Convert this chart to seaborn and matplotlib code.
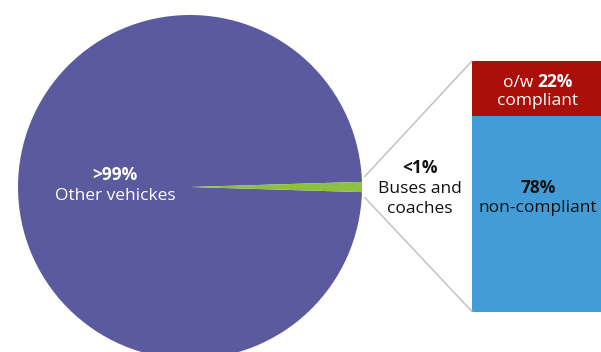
import matplotlib
matplotlib.use("Agg")
import matplotlib.pyplot as plt
import numpy as np
import pandas as pd
import seaborn as sns
from matplotlib.patches import ConnectionPatch

# Vehicle fleet split and the compliance split of buses and coaches
vehicle_labels = ["Other vehickes", "Buses and\ncoaches"]
vehicle_share = [99.05, 0.95]
vehicle_share_text = [">99%", "<1%"]
bus_labels = ["compliant", "non-compliant"]
bus_share = [22, 78]

PURPLE = "#5B5A9E"
GREEN = "#8CC03F"
RED = "#AA0F0A"
BLUE = "#449CD6"
LINE = "#BDBDBD"

sns.set_theme(style="white")
plt.rcParams["font.family"] = ["Open Sans", "DejaVu Sans"]

W, H = 601, 352
fig = plt.figure(figsize=(W / 100, H / 100), dpi=100)

# Pie in pixel-like coordinates (y grows downward)
ax = fig.add_axes([0, 0, 1, 1])
cx, cy, r = 190, 187, 172
bus_angle = 360 * vehicle_share[1] / 100
wedges, _ = ax.pie(
    vehicle_share,
    colors=[PURPLE, GREEN],
    startangle=bus_angle / 2,
    center=(cx, cy),
    radius=r,
    wedgeprops=dict(linewidth=0),
)
ax.set_xlim(0, W)
ax.set_ylim(H, 0)
ax.set_aspect("equal")
ax.axis("off")

# Stacked compliance bar
bx = fig.add_axes([472 / W, 1 - 311.5 / H, 132 / W, 250.5 / H])
bar_df = pd.DataFrame({"group": ["bus", "bus"],
                       "segment": bus_labels,
                       "share": bus_share})
total = bar_df["share"].sum()
sns.barplot(x=["bus"], y=[total], color=RED, width=1, saturation=1,
            linewidth=0, ax=bx)
sns.barplot(x=["bus"], y=[bar_df.loc[1, "share"]], color=BLUE, width=1,
            saturation=1, linewidth=0, ax=bx)
bx.set_xlim(-0.5, 0.5)
bx.set_ylim(0, total)
bx.axis("off")

# Keep the label layer above the bar
ax.set_zorder(3)
ax.patch.set_alpha(0)

# Connector lines from the small slice to the bar
pad = 1.7
for sign, corner in ((1, (0, 1)), (-1, (0, 0))):
    phi = np.deg2rad(bus_angle / 2 + pad)
    start = (cx + (r + 3) * np.cos(phi), cy - sign * (r + 3) * np.sin(phi))
    con = ConnectionPatch(xyA=start, coordsA=ax.transData,
                          xyB=corner, coordsB=bx.transAxes,
                          color=LINE, linewidth=1.0)
    fig.add_artist(con)

FS = 12.5
DARK = "#111111"
# Pie labels
ax.text(115, 180, vehicle_share_text[0], color="white", fontsize=FS,
        fontweight="bold", ha="center", va="baseline")
ax.text(115, 200, vehicle_labels[0], color="white", fontsize=FS,
        ha="center", va="baseline")
ax.text(420, 173, vehicle_share_text[1], color=DARK, fontsize=FS,
        fontweight="bold", ha="center", va="baseline")
bus_lines = vehicle_labels[1].split("\n")
ax.text(420, 193, bus_lines[0], color=DARK, fontsize=FS,
        ha="center", va="baseline")
ax.text(420, 213, bus_lines[1], color=DARK, fontsize=FS,
        ha="center", va="baseline")

# Bar labels
renderer = fig.canvas.get_renderer()
t1 = ax.text(0, 87, "o/w ", color="white", fontsize=FS, ha="left",
             va="baseline")
t2 = ax.text(0, 87, f"{bus_share[0]}%", color="white", fontsize=FS,
             fontweight="bold", ha="left", va="baseline")
w1 = t1.get_window_extent(renderer).width
w2 = t2.get_window_extent(renderer).width
x0 = 538 - (w1 + w2) / 2
t1.set_x(x0)
t2.set_x(x0 + w1)
ax.text(538, 105, bus_labels[0], color="white", fontsize=FS,
        ha="center", va="baseline")
ax.text(538, 193, f"{bus_share[1]}%", color=DARK, fontsize=FS,
        fontweight="bold", ha="center", va="baseline")
ax.text(538, 212, bus_labels[1], color=DARK, fontsize=FS,
        ha="center", va="baseline")

fig.savefig("out.png", dpi=100)
